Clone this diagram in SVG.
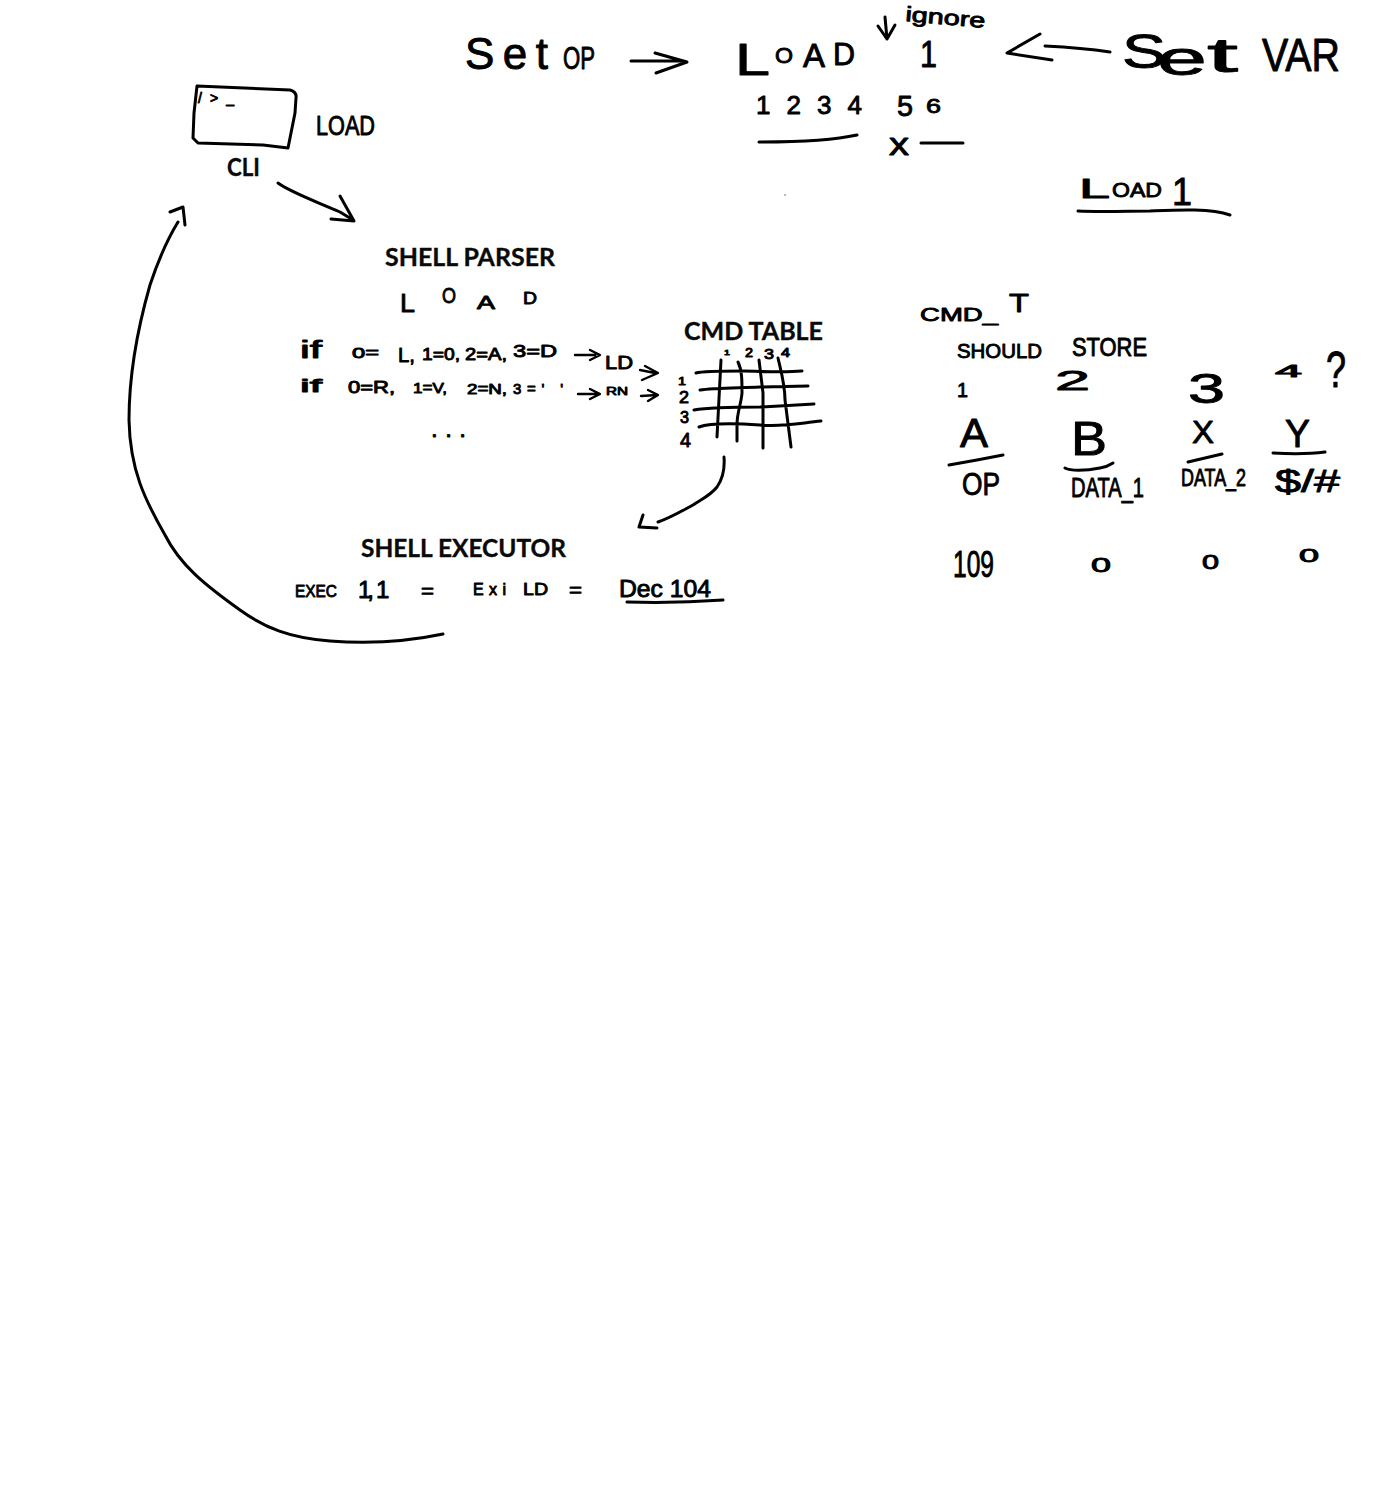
<svg xmlns="http://www.w3.org/2000/svg" width="1400" height="1496" viewBox="0 0 1400 1496">
<style>
.bg{fill:#fff}
.ink{fill:none;stroke:#000;stroke-width:3;stroke-linecap:round;stroke-linejoin:round}
.thin{stroke-width:2.4}
.h{font-family:"Liberation Sans",Arial,sans-serif;fill:#000;stroke:#000;stroke-width:.9;stroke-linejoin:round}
.t{font-family:Lato,"Open Sans",sans-serif;font-weight:700;font-size:25px;fill:#0a0a0a;stroke:#0a0a0a;stroke-width:.35}
</style>
<rect class="bg" width="1400" height="1496"/>
<g id="connectors">
<path class="ink" d="M631,61 L680,61 M655,53 L687,62 L656,73"/>
<path class="ink" d="M885,17 L887,39 M878,26 L887,39 L895,25"/>
<path class="ink" d="M1045,46 C1065,47 1090,49 1110,52 M1040,34 L1007,53 L1052,60"/>
<path class="ink" d="M278,183 C290,192 315,201 340,212 L353,220 M340,196 L354,221 L331,219"/>
<path class="ink" d="M443,634 C410,641 370,644 330,641 C290,638 265,628 240,610 C205,585 180,565 165,535 C145,500 130,470 129,420 C129,370 140,320 150,285 C160,255 170,235 178,222 M170,212 L183,207 L185,225"/>
<path class="ink thin" d="M575,355 L595,355 M590,350 L600,355 L590,360"/>
<path class="ink thin" d="M640,370 L655,373 M645,366 L658,373 L642,380"/>
<path class="ink thin" d="M578,394 L597,394 M590,389 L600,394 L590,399"/>
<path class="ink thin" d="M641,396 L657,395 M648,390 L658,395 L648,401"/>
<path class="ink" d="M724,457 C725,470 722,480 717,487 C710,496 700,500 693,505 C680,512 670,518 658,522 M643,515 L639,527 L657,528"/>
</g>
<g id="node-set-op"><text class="h" x="465" y="69" font-size="44" textLength="83" lengthAdjust="spacing">Set</text><text class="h" x="563" y="69" font-size="32" textLength="32" lengthAdjust="spacingAndGlyphs">OP</text></g>
<g id="node-load-word">
<text class="h" x="735" y="75" font-size="44" textLength="35" lengthAdjust="spacingAndGlyphs">L</text>
<text class="h" x="775" y="63" font-size="22" textLength="18" lengthAdjust="spacingAndGlyphs">O</text>
<text class="h" x="803" y="67" font-size="33" textLength="22" lengthAdjust="spacingAndGlyphs">A</text>
<text class="h" x="833" y="65" font-size="31" textLength="22" lengthAdjust="spacingAndGlyphs">D</text>
<text class="h" x="920" y="67" font-size="36" textLength="17" lengthAdjust="spacingAndGlyphs">1</text>
<text class="h" x="905" y="21" font-size="21" textLength="80" lengthAdjust="spacingAndGlyphs" transform="rotate(5 905 21)">ignore</text>
<text class="h" x="756" y="114" font-size="26" textLength="106" lengthAdjust="spacing">1234</text>
<text class="h" x="897" y="116" font-size="30" textLength="16" lengthAdjust="spacingAndGlyphs">5</text>
<text class="h" x="926" y="113" font-size="21" textLength="15" lengthAdjust="spacingAndGlyphs">6</text>
<text class="h" x="889" y="155" font-size="32" textLength="20" lengthAdjust="spacingAndGlyphs">x</text>
<path class="ink" d="M759,142 C790,142 830,141 857,135 M921,143 L963,143"/>
</g>
<g id="node-set-var">
<text class="h" x="1122" y="68" font-size="49" textLength="44" lengthAdjust="spacingAndGlyphs">S</text>
<text class="h" x="1157" y="75" font-size="48" textLength="50" lengthAdjust="spacingAndGlyphs">e</text>
<text class="h" x="1207" y="72" font-size="48" textLength="31" lengthAdjust="spacingAndGlyphs">t</text>
<text class="h" x="1262" y="71" font-size="47" textLength="78" lengthAdjust="spacingAndGlyphs">VAR</text>
</g>
<g id="node-load-1">
<text class="h" x="1079" y="198" font-size="27" textLength="31" lengthAdjust="spacingAndGlyphs">L</text>
<text class="h" x="1112" y="197" font-size="21" textLength="50" lengthAdjust="spacingAndGlyphs">OAD</text>
<text class="h" x="1172" y="205" font-size="39" textLength="20" lengthAdjust="spacingAndGlyphs">1</text>
<path class="ink" d="M1078,211 C1100,212 1130,211 1150,211 C1175,210 1210,208 1230,215"/>
</g>
<g id="node-cli">
<path class="ink" d="M197,86 L290,90 Q297,92 296,98 L295,113 L288,148 L263,145 L198,143 L193,138 L194,113 Z"/>
<text class="h" x="198" y="103" font-size="14" textLength="36" lengthAdjust="spacing">/&gt;_</text>
<text class="h" x="316" y="135" font-size="27" textLength="59" lengthAdjust="spacingAndGlyphs">LOAD</text>
<text class="t" x="227" y="176" textLength="33" lengthAdjust="spacingAndGlyphs">CLI</text>
</g>
<g id="node-shell-parser">
<text class="t" x="385" y="266" textLength="170" lengthAdjust="spacingAndGlyphs">SHELL PARSER</text>
<text class="h" x="400" y="312" font-size="26" textLength="15" lengthAdjust="spacingAndGlyphs">L</text>
<text class="h" x="442" y="303" font-size="22" textLength="14" lengthAdjust="spacingAndGlyphs">O</text>
<text class="h" x="477" y="309" font-size="18" textLength="18" lengthAdjust="spacingAndGlyphs">A</text>
<text class="h" x="523" y="304" font-size="17" textLength="14" lengthAdjust="spacingAndGlyphs">D</text>
<text class="h" x="300" y="358" font-size="23" textLength="22" lengthAdjust="spacingAndGlyphs">if</text>
<text class="h" x="352" y="358" font-size="15" textLength="27" lengthAdjust="spacingAndGlyphs">0=</text>
<text class="h" x="398" y="362" font-size="20" textLength="17" lengthAdjust="spacingAndGlyphs">L,</text>
<text class="h" x="422" y="360" font-size="17" textLength="38" lengthAdjust="spacingAndGlyphs">1=0,</text>
<text class="h" x="465" y="360" font-size="17" textLength="42" lengthAdjust="spacingAndGlyphs">2=A,</text>
<text class="h" x="513" y="357" font-size="17" textLength="44" lengthAdjust="spacingAndGlyphs">3=D</text>
<text class="h" x="605" y="369" font-size="18" textLength="28" lengthAdjust="spacingAndGlyphs">LD</text>
<text class="h" x="300" y="392" font-size="19" textLength="22" lengthAdjust="spacingAndGlyphs">if</text>
<text class="h" x="348" y="393" font-size="16" textLength="47" lengthAdjust="spacingAndGlyphs">0=R,</text>
<text class="h" x="413" y="393" font-size="14" textLength="34" lengthAdjust="spacingAndGlyphs">1=V,</text>
<text class="h" x="467" y="394" font-size="14" textLength="40" lengthAdjust="spacingAndGlyphs">2=N,</text>
<text class="h" x="513" y="394" font-size="15" textLength="50" lengthAdjust="spacing">3=' '</text>
<text class="h" x="606" y="395" font-size="11" textLength="22" lengthAdjust="spacingAndGlyphs">RN</text>
<text class="h" x="431" y="437" font-size="24" textLength="35" lengthAdjust="spacing">...</text>
</g>
<g id="node-cmd-table">
<text class="t" x="684" y="340" textLength="139" lengthAdjust="spacingAndGlyphs">CMD TABLE</text>
<g>
<text class="h" x="724" y="355" font-size="8" textLength="6" lengthAdjust="spacingAndGlyphs">1</text>
<text class="h" x="745" y="357" font-size="12" textLength="8" lengthAdjust="spacingAndGlyphs">2</text>
<text class="h" x="764" y="359" font-size="14" textLength="10" lengthAdjust="spacingAndGlyphs">3</text>
<text class="h" x="781" y="357" font-size="12" textLength="9" lengthAdjust="spacingAndGlyphs">4</text>
<text class="h" x="678" y="385" font-size="11" textLength="8" lengthAdjust="spacingAndGlyphs">1</text>
<text class="h" x="679" y="403" font-size="16" textLength="10" lengthAdjust="spacingAndGlyphs">2</text>
<text class="h" x="680" y="423" font-size="16" textLength="9" lengthAdjust="spacingAndGlyphs">3</text>
<text class="h" x="680" y="447" font-size="20" textLength="11" lengthAdjust="spacingAndGlyphs">4</text>
</g>
<path class="ink" d="M696,373 C703,371 720,371 743,371 C760,371 780,373 802,371 M700,390 C712,388 735,388 760,387 L808,386 M694,410 C705,408 735,407 760,407 L814,404 M699,427 C710,423 730,423 760,425 C785,427 800,423 821,421 M721,360 L717,437 M738,362 C742,370 742,380 742,393 C741,405 737,412 737,425 L737,441 M759,360 L763,393 L763,448 M778,358 C782,375 785,385 785,400 L791,447"/>
</g>
<g id="node-shell-executor">
<text class="t" x="361" y="557" textLength="205" lengthAdjust="spacingAndGlyphs">SHELL EXECUTOR</text>
<text class="h" x="295" y="597" font-size="17" textLength="42" lengthAdjust="spacingAndGlyphs">EXEC</text>
<text class="h" x="358" y="598" font-size="24" textLength="16" lengthAdjust="spacing">1,</text>
<text class="h" x="376" y="598" font-size="24">1</text>
<text class="h" x="421" y="597" font-size="18" textLength="13" lengthAdjust="spacingAndGlyphs">=</text>
<text class="h" x="473" y="595" font-size="16" textLength="33" lengthAdjust="spacing">Exi</text>
<text class="h" x="523" y="595" font-size="17" textLength="25" lengthAdjust="spacingAndGlyphs">LD</text>
<text class="h" x="569" y="596" font-size="18" textLength="13" lengthAdjust="spacingAndGlyphs">=</text>
<text class="h" x="619" y="597" font-size="24" textLength="92" lengthAdjust="spacingAndGlyphs">Dec 104</text>
<path class="ink" d="M627,602 C660,603 695,602 723,600"/>
</g>
<g id="node-cmd-t">
<text class="h" x="920" y="321" font-size="19" textLength="78" lengthAdjust="spacingAndGlyphs">CMD_</text>
<text class="h" x="1009" y="312" font-size="26" textLength="20" lengthAdjust="spacingAndGlyphs">T</text>
<text class="h" x="957" y="358" font-size="20" textLength="85" lengthAdjust="spacingAndGlyphs">SHOULD</text>
<text class="h" x="1072" y="356" font-size="25" textLength="75" lengthAdjust="spacingAndGlyphs">STORE</text>
<text class="h" x="957" y="397" font-size="21" textLength="11" lengthAdjust="spacingAndGlyphs">1</text>
<text class="h" x="1055" y="390" font-size="28" textLength="35" lengthAdjust="spacingAndGlyphs">2</text>
<text class="h" x="1188" y="403" font-size="42" textLength="37" lengthAdjust="spacingAndGlyphs">3</text>
<text class="h" x="1275" y="377" font-size="17" textLength="27" lengthAdjust="spacingAndGlyphs">4</text>
<text class="h" x="1326" y="387" font-size="50" textLength="20" lengthAdjust="spacingAndGlyphs">?</text>
<text class="h" x="960" y="447" font-size="40" textLength="28" lengthAdjust="spacingAndGlyphs">A</text>
<text class="h" x="1071" y="455" font-size="48" textLength="36" lengthAdjust="spacingAndGlyphs">B</text>
<text class="h" x="1192" y="443" font-size="32" textLength="22" lengthAdjust="spacingAndGlyphs">X</text>
<text class="h" x="1285" y="447" font-size="38" textLength="25" lengthAdjust="spacingAndGlyphs">Y</text>
<path class="ink" d="M949,465 L977,460 L1003,455 M1065,468 C1070,471 1085,471 1100,468 C1106,467 1110,465 1113,463 M1188,462 L1222,454 M1273,453 C1290,454 1310,454 1325,452"/>
<text class="h" x="962" y="495" font-size="32" textLength="38" lengthAdjust="spacingAndGlyphs">OP</text>
<text class="h" x="1071" y="497" font-size="28" textLength="73" lengthAdjust="spacingAndGlyphs">DATA_1</text>
<text class="h" x="1181" y="486" font-size="24" textLength="65" lengthAdjust="spacingAndGlyphs">DATA_2</text>
<text class="h" x="1275" y="492" font-size="32" textLength="65" lengthAdjust="spacingAndGlyphs">$/#</text>
<text class="h" x="953" y="577" font-size="36" textLength="41" lengthAdjust="spacingAndGlyphs">109</text>
<text class="h" x="1091" y="572" font-size="21" textLength="20" lengthAdjust="spacingAndGlyphs">0</text>
<text class="h" x="1202" y="569" font-size="20" textLength="17" lengthAdjust="spacingAndGlyphs">0</text>
<text class="h" x="1299" y="562" font-size="18" textLength="20" lengthAdjust="spacingAndGlyphs">0</text>
<circle cx="785" cy="195" r=".7" fill="#444"/>
</g>
</svg>
